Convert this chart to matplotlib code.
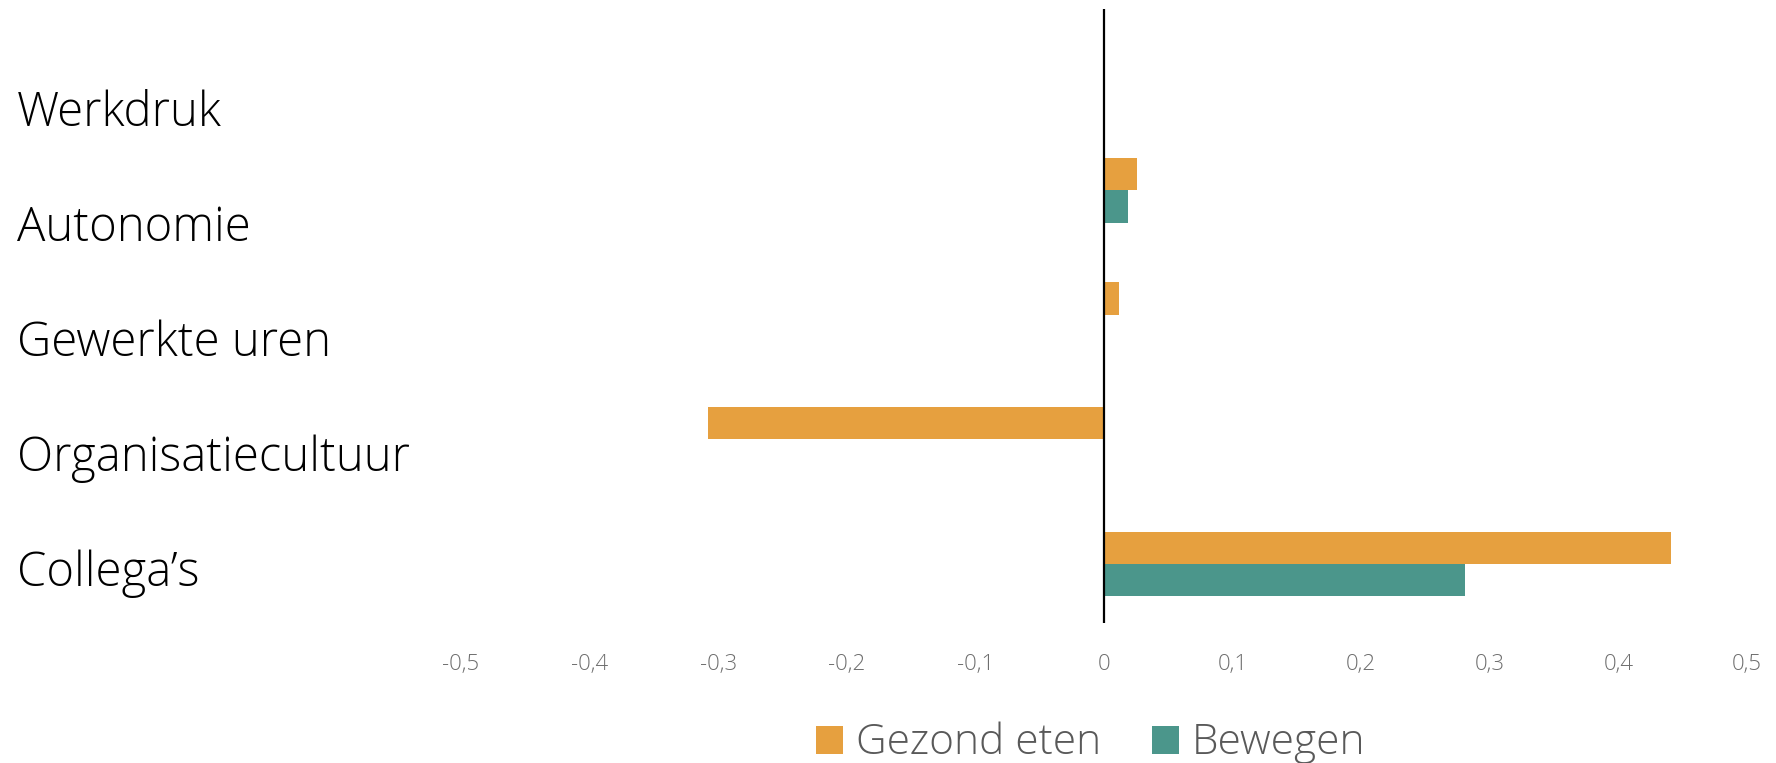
import matplotlib
matplotlib.use("Agg")
import matplotlib.pyplot as plt
import numpy as np
from matplotlib.patches import Patch

plt.rcParams['font.family'] = ['Open Sans', 'DejaVu Sans']

categories = ["Collega\u2019s", "Organisatiecultuur", "Gewerkte uren", "Autonomie", "Werkdruk"]
gezond_eten = [0.441, -0.308, 0.012, 0.026, 0.0]
bewegen = [0.281, 0.0, 0.0, 0.019, 0.0]
xticks = [-0.5, -0.4, -0.3, -0.2, -0.1, 0, 0.1, 0.2, 0.3, 0.4, 0.5]
series_names = ["Gezond eten", "Bewegen"]

ORANGE = '#E6A03F'
TEAL = '#4B968B'

fig = plt.figure(figsize=(17.76, 7.63), dpi=100)

# bar area
ax = fig.add_axes([461 / 1776, 140 / 763, 1286 / 1776, 614 / 763])
y = np.arange(len(categories))
h = 0.26
ax.barh(y + h / 2, gezond_eten, height=h, color=ORANGE)
ax.barh(y - h / 2, bewegen, height=h, color=TEAL)
ax.axvline(0, color='black', lw=1.6)

ax.set_xlim(-0.5, 0.5)
ax.set_ylim(-0.474, 4.456)
ax.set_yticks([])
ax.set_xticks(xticks)
ax.set_xticklabels([('%g' % t).replace('.', ',') for t in xticks])
ax.tick_params(axis='x', length=0, pad=22, labelsize=16, labelcolor='#6e6e6e')
for lbl in ax.get_xticklabels():
    lbl.set_fontweight('light')
for s in ax.spines.values():
    s.set_visible(False)

# category labels on the left (own spacing)
ax_lab = fig.add_axes([0.0, 177 / 763, 0.25, 460 / 763])
ax_lab.set_xlim(0, 1)
ax_lab.set_ylim(0, len(categories) - 1)
ax_lab.axis('off')
for i, name in enumerate(categories):
    ax_lab.text(0.0096 / 0.25, i, name, fontsize=34, fontweight='light',
                color='black', va='baseline', ha='left')

handles = [Patch(facecolor=ORANGE), Patch(facecolor=TEAL)]
fig.legend(handles, series_names, loc='center', bbox_to_anchor=(0.614, 0.026),
           ncol=2, frameon=False, prop={'size': 30.5, 'weight': 'light'},
           labelcolor='#595959', handlelength=0.64, handleheight=0.64,
           handletextpad=0.3, columnspacing=1.2)

fig.savefig('out.png', dpi=100)
